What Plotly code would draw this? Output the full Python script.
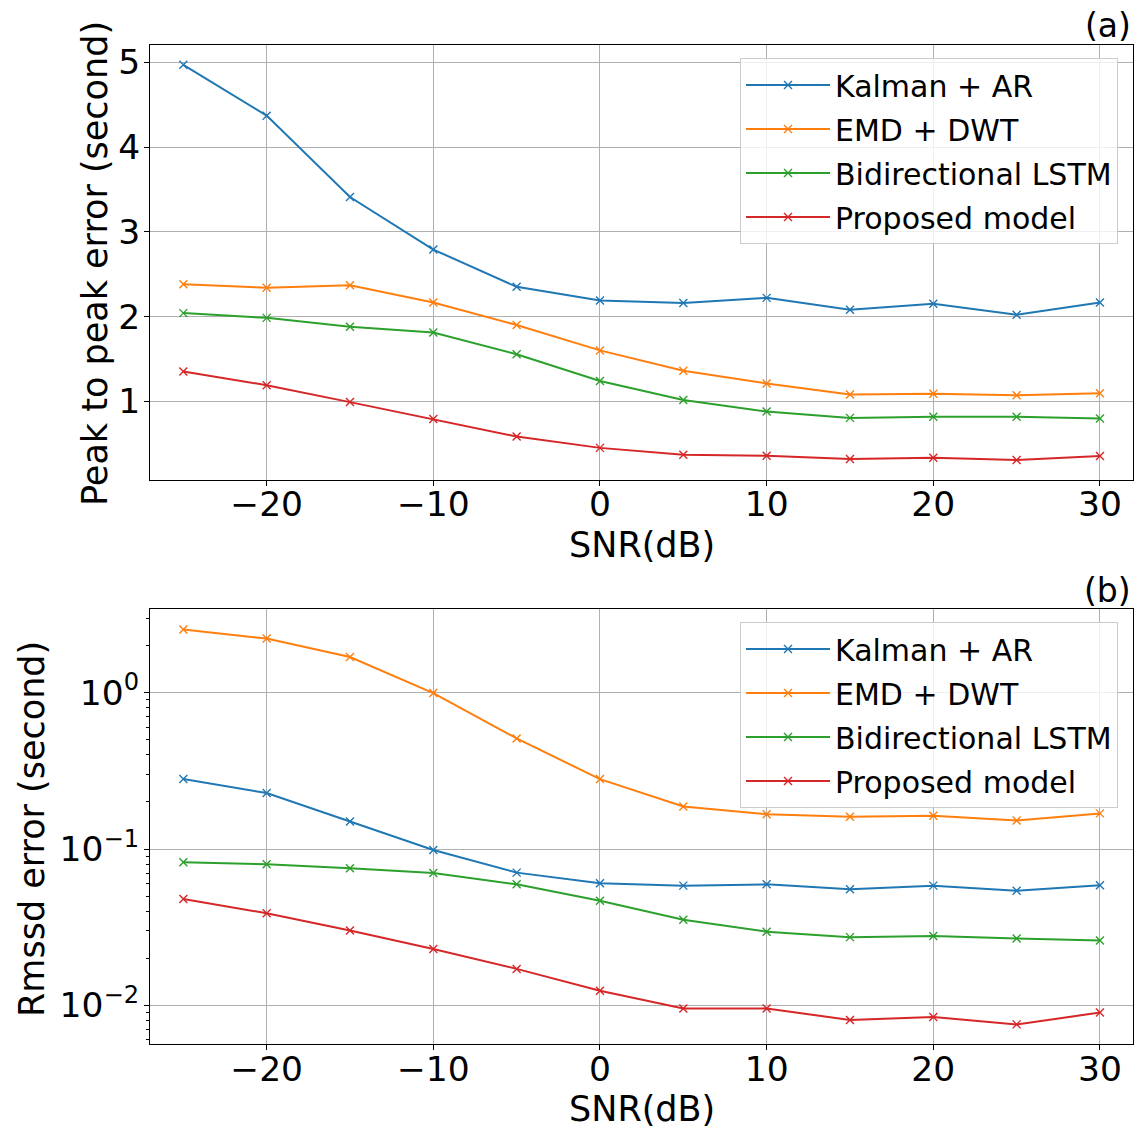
import plotly.graph_objects as go

W, H = 1144, 1129

snr = [-25, -20, -15, -10, -5, 0, 5, 10, 15, 20, 25, 30]
series_names = ["Kalman + AR", "EMD + DWT", "Bidirectional LSTM", "Proposed model"]
colors = ["#1f77b4", "#ff7f0e", "#2ca02c", "#d62728"]

# (a) Peak to peak error (second)
p2p_kalman = [4.97, 4.37, 3.41, 2.79, 2.35, 2.19, 2.16, 2.22, 2.08, 2.15, 2.02, 2.165]
p2p_emd = [2.38, 2.34, 2.37, 2.165, 1.90, 1.60, 1.36, 1.21, 1.08, 1.09, 1.07, 1.094]
p2p_lstm = [2.04, 1.984, 1.878, 1.81, 1.555, 1.24, 1.016, 0.878, 0.804, 0.816, 0.816, 0.796]
p2p_prop = [1.35, 1.19, 0.99, 0.79, 0.584, 0.45, 0.37, 0.357, 0.318, 0.333, 0.306, 0.353]

# (b) Rmssd error (second)
rm_kalman = [0.28, 0.228, 0.150, 0.0985, 0.0706, 0.0603, 0.0583, 0.0594, 0.0552, 0.0583, 0.0541, 0.0586]
rm_emd = [2.54, 2.22, 1.69, 0.995, 0.51, 0.28, 0.187, 0.167, 0.161, 0.163, 0.152, 0.169]
rm_lstm = [0.0822, 0.0798, 0.0752, 0.0703, 0.0594, 0.0466, 0.0353, 0.0296, 0.0273, 0.0278, 0.0268, 0.0260]
rm_prop = [0.0479, 0.0388, 0.0301, 0.0229, 0.0171, 0.0124, 0.00953, 0.00953, 0.00806, 0.00842, 0.00755, 0.00898]

x_ticks = [-20, -10, 0, 10, 20, 30]
x_ticktext = ["\u221220", "\u221210", "0", "10", "20", "30"]
y1_ticks = [1, 2, 3, 4, 5]
y2_ticks = [0.01, 0.1, 1]
y2_ticktext = ["10<sup>\u22122</sup>", "10<sup>\u22121</sup>", "10<sup>0</sup>"]
y2_minor = [0.006, 0.007, 0.008, 0.009,
            0.02, 0.03, 0.04, 0.05, 0.06, 0.07, 0.08, 0.09,
            0.2, 0.3, 0.4, 0.5, 0.6, 0.7, 0.8, 0.9, 2, 3]

FONT = "DejaVu Sans"

def px(x):
    return x / W

def py(y):
    return 1 - y / H

fig = go.Figure()

top_data = [p2p_kalman, p2p_emd, p2p_lstm, p2p_prop]
bot_data = [rm_kalman, rm_emd, rm_lstm, rm_prop]

for i, (name, ys) in enumerate(zip(series_names, top_data)):
    fig.add_trace(go.Scatter(
        x=snr, y=ys, name=name, mode="lines+markers",
        line=dict(color=colors[i], width=2),
        marker=dict(symbol="x-thin", size=8, line=dict(color=colors[i], width=1.4)),
        xaxis="x", yaxis="y", legend="legend", legendgroup="a%d" % i,
    ))

for i, (name, ys) in enumerate(zip(series_names, bot_data)):
    fig.add_trace(go.Scatter(
        x=snr, y=ys, name=name, mode="lines+markers",
        line=dict(color=colors[i], width=2),
        marker=dict(symbol="x-thin", size=8, line=dict(color=colors[i], width=1.4)),
        xaxis="x2", yaxis="y2", legend="legend2", legendgroup="b%d" % i,
    ))

axis_common = dict(
    showline=True, mirror=True, linecolor="black", linewidth=1,
    ticks="outside", ticklen=5, tickwidth=1, tickcolor="black",
    showgrid=True, gridcolor="#b0b0b0", gridwidth=1,
    zeroline=False, automargin=False,
    tickfont=dict(family=FONT, size=34.5, color="black"),
)

xdom = [px(150), px(1133.3)]
fig.update_layout(
    width=W, height=H,
    margin=dict(l=0, r=0, t=0, b=0),
    paper_bgcolor="white", plot_bgcolor="white",
    font=dict(family=FONT, color="black"),
    xaxis=dict(axis_common, domain=xdom, range=[-27, 32], tickvals=x_ticks, ticktext=x_ticktext,
               anchor="y", ticklabelstandoff=-11),
    yaxis=dict(axis_common, domain=[py(480), py(45.3)], range=[0.071, 5.2], tickvals=y1_ticks,
               anchor="x", ticklabelstandoff=-3),
    xaxis2=dict(axis_common, domain=xdom, range=[-27, 32], tickvals=x_ticks, ticktext=x_ticktext,
                anchor="y2", ticklabelstandoff=-11),
    yaxis2=dict(axis_common, type="log", domain=[py(1044.3), py(609.3)], range=[-2.2495, 0.5336],
                tickvals=y2_ticks, ticktext=y2_ticktext, anchor="x2", ticklabelstandoff=-2,
                minor=dict(tickvals=y2_minor, ticks="outside", ticklen=3, tickwidth=1,
                           tickcolor="black", showgrid=False)),
    legend=dict(x=px(1118), y=py(58), xanchor="right", yanchor="top",
                bgcolor="rgba(255,255,255,0.8)", bordercolor="#cccccc", borderwidth=1,
                font=dict(family=FONT, size=30, color="black"),
                itemwidth=84, tracegroupgap=2),
    legend2=dict(x=px(1118), y=py(622), xanchor="right", yanchor="top",
                 bgcolor="rgba(255,255,255,0.8)", bordercolor="#cccccc", borderwidth=1,
                 font=dict(family=FONT, size=30, color="black"),
                 itemwidth=84, tracegroupgap=2),
    showlegend=True,
)

ann_font = dict(family=FONT, size=33, color="black")
title_font = dict(family=FONT, size=35, color="black")
annotations = [
    dict(text="(a)", x=px(1133), y=py(25), xanchor="right", yanchor="middle", font=ann_font),
    dict(text="(b)", x=px(1133), y=py(590), xanchor="right", yanchor="middle", font=ann_font),
    dict(text="SNR(dB)", x=px(641.5), y=py(545), xanchor="center", yanchor="middle", font=title_font),
    dict(text="SNR(dB)", x=px(641.5), y=py(1109), xanchor="center", yanchor="middle", font=title_font),
    dict(text="Peak to peak error (second)", x=px(95), y=py(264), xanchor="center",
         yanchor="middle", textangle=-90, font=title_font),
    dict(text="Rmssd error (second)", x=px(32), y=py(829), xanchor="center",
         yanchor="middle", textangle=-90, font=title_font),
]
for a in annotations:
    a.update(xref="paper", yref="paper", showarrow=False)
fig.update_layout(annotations=annotations)

fig.write_html("out.html")
